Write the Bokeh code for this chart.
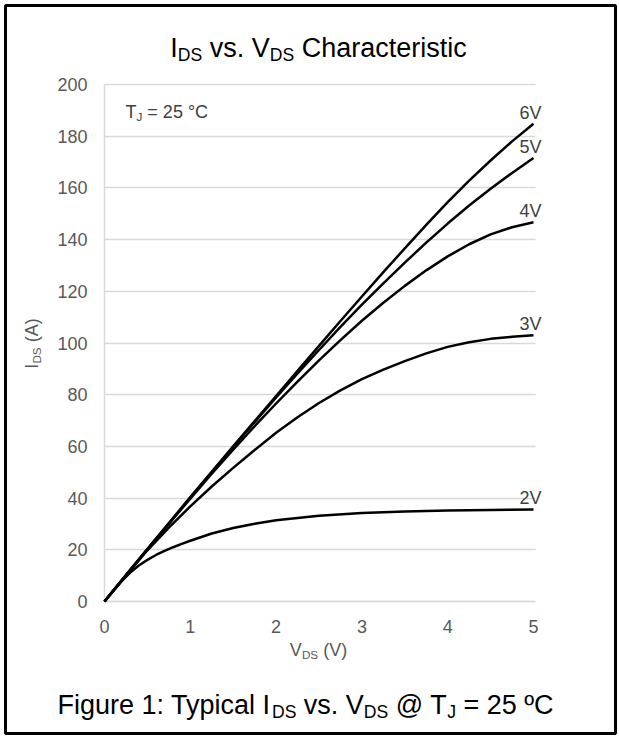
import math
from bokeh.plotting import figure
from bokeh.models import Label, FixedTicker, Range1d, BoxAnnotation, LinearAxis
from bokeh.embed import file_html
from bokeh.resources import INLINE

# ---------------- data ----------------
V_DS = [0, 0.25, 0.5, 0.75, 1, 1.25, 1.5, 1.75, 2, 2.25, 2.5, 2.75, 3,
        3.25, 3.5, 3.75, 4, 4.25, 4.5, 4.75, 5]
I_6V = [0, 10.2, 20.3, 30.3, 40.3, 50.2, 60, 69.8, 79.5, 89.2, 98.9, 108.5,
        118, 127.4, 136.6, 145.7, 154.5, 162.8, 170.6, 178, 184.8]
I_5V = [0, 10.2, 20.3, 30.3, 40.3, 50.1, 59.8, 69.4, 78.9, 88.2, 97.3, 106.2,
        114.8, 123.1, 131.1, 138.8, 146.2, 153.2, 159.7, 165.8, 171.6]
I_4V = [0, 10.1, 20.1, 30, 39.8, 49.4, 58.7, 67.8, 76.6, 85.1, 93.3, 101.1,
        108.6, 115.6, 122.1, 128.1, 133.5, 138.2, 142, 144.8, 146.7]
I_3V = [0, 10, 19.8, 28.6, 36.8, 44.5, 51.7, 58.6, 65.3, 71.3, 76.8, 81.7,
        86, 89.7, 93, 96, 98.5, 100.3, 101.6, 102.4, 103]
V_2V = [0, 0.1, 0.2, 0.3, 0.4, 0.5, 0.6, 0.7, 0.8, 0.9, 1, 1.25, 1.5, 1.75,
        2, 2.5, 3, 3.5, 4, 4.5, 5]
I_2V = [0, 4.1, 7.9, 11.2, 13.9, 16.1, 18, 19.6, 21, 22.3, 23.5, 26.3, 28.4,
        30.1, 31.4, 33.2, 34.2, 34.8, 35.2, 35.4, 35.6]
curve_labels = ["6V", "5V", "4V", "3V", "2V"]
x_ticks = [0, 1, 2, 3, 4, 5]
y_ticks = [0, 20, 40, 60, 80, 100, 120, 140, 160, 180, 200]
X_MIN, X_MAX = 0, 5
Y_MIN, Y_MAX = 0, 200

FONT = "Liberation Sans"

# ---------------- geometry (page px) ----------------
W, H = 619, 737
PLOT_L, PLOT_R, PLOT_T, PLOT_B = 104, 533, 84, 601
XS = (PLOT_R - PLOT_L) / (X_MAX - X_MIN)
YS = (PLOT_B - PLOT_T) / (Y_MAX - Y_MIN)

p = figure(width=W, height=H, title=None, min_border=0,
           x_range=Range1d(X_MIN - PLOT_L / XS, X_MAX + (W - PLOT_R) / XS),
           y_range=Range1d(Y_MIN - (H - PLOT_B) / YS, Y_MAX + PLOT_T / YS),
           x_axis_type=None, y_axis_type=None,
           output_backend="svg", toolbar_location=None)
p.outline_line_color = None
p.background_fill_color = "white"
p.border_fill_color = "white"

xaxis = LinearAxis(fixed_location=0, bounds=(X_MIN, X_MAX),
                   ticker=FixedTicker(ticks=x_ticks))
yaxis = LinearAxis(fixed_location=0, bounds=(Y_MIN, Y_MAX),
                   ticker=FixedTicker(ticks=y_ticks))
p.add_layout(xaxis, "below")
p.add_layout(yaxis, "left")
for ax in (xaxis, yaxis):
    ax.axis_line_color = "#d9d9d9"
    ax.axis_line_width = 1.5
    ax.minor_tick_line_color = None
    ax.major_label_text_font = FONT
    ax.major_label_text_font_size = "18px"
    ax.major_label_text_color = "#595959"
xaxis.major_tick_line_color = None
xaxis.major_label_standoff = 12
# horizontal gridlines drawn as the y axis' inward major ticks
yaxis.major_tick_out = 0
yaxis.major_tick_in = PLOT_R - PLOT_L + 2
yaxis.major_tick_line_color = "#d9d9d9"
yaxis.major_tick_line_width = 1.5
yaxis.major_label_standoff = 17

series = [(V_DS, I_6V), (V_DS, I_5V), (V_DS, I_4V), (V_DS, I_3V), (V_2V, I_2V)]
for (xs, ys), lab in zip(series, curve_labels):
    r = p.line(xs, ys, line_color="black", line_width=2.5, line_join="round")
    r.level = "overlay"
    p.add_layout(Label(x=xs[-1], y=ys[-1], x_offset=8, y_offset=11, text=lab,
                       text_align="right", text_baseline="middle",
                       text_font=FONT, text_font_size="18px",
                       text_color="#404040"))

# ---------- rich text helper (Arial / Liberation Sans metrics) ----------
AW = {' ': 278, 'I': 278, 'D': 722, 'S': 667, 'v': 500, 's': 500, '.': 278,
      'V': 667, 'C': 722, 'h': 556, 'a': 556, 'r': 333, 'c': 500, 't': 278,
      'e': 556, 'i': 222, '@': 1015, 'T': 611, 'J': 500, '=': 584,
      '°': 400, 'º': 365, 'F': 611, 'g': 556, 'u': 556, ':': 278, 'l': 222,
      'p': 556, 'y': 500, '(': 333, ')': 333, 'A': 667}


def tw(s, fs):
    return sum(AW.get(ch, 556) for ch in s) * fs / 1000.0


def rich(parts, px, py, fs, color, anchor="center", rotate=False, sub=0.65):
    """px/py: start (or centre) of the run and vertical centre of the caps."""
    widths = [tw(t, fs * sub if s else fs) for t, s in parts]
    total = sum(widths)
    pos = -total / 2 if anchor == "center" else 0.0
    for (t, s), w in zip(parts, widths):
        f = fs * sub if s else fs
        lead = len(t) - len(t.lstrip(" "))
        core = t.strip(" ")
        off = tw(" " * lead, f)
        if core:
            if not rotate:
                x = px + pos + off
                y = py + (0.29 * fs if s else 0)
                ang = 0
            else:
                y = py - (pos + off)
                x = px + (0.29 * fs if s else 0)
                ang = math.pi / 2
            p.add_layout(Label(x=x, y=H - y, x_units="screen", y_units="screen",
                               angle=ang, text=core, text_align="left",
                               text_baseline="middle", text_font=FONT,
                               text_font_size=f"{f:.1f}px", text_color=color))
        pos += w


rich([("I", 0), ("DS", 1), (" vs. V", 0), ("DS", 1), (" Characteristic", 0)],
     318, 47, 27, "#000000")
rich([("T", 0), ("J", 1), (" = 25 °C", 0)], 125, 111, 18, "#404040",
     anchor="left")
rich([("V", 0), ("DS", 1), (" (V)", 0)], 318, 649, 18, "#595959")
rich([("I", 0), ("DS", 1), (" (A)", 0)], 31, 343, 18, "#595959", rotate=True)
rich([("Figure 1: Typical I", 0), ("DS", 1), (" vs. V", 0), ("DS", 1),
      (" @ T", 0), ("J", 1), (" = 25 ºC", 0)], 305, 704, 27, "#000000")

# outer frame border
p.add_layout(BoxAnnotation(left=5, right=W - 4, bottom=4, top=H - 5,
                           left_units="screen", right_units="screen",
                           top_units="screen", bottom_units="screen",
                           fill_alpha=0, line_alpha=1.0,
                           line_color="black", line_width=3))

open("out.html", "w").write(file_html(p, INLINE))
